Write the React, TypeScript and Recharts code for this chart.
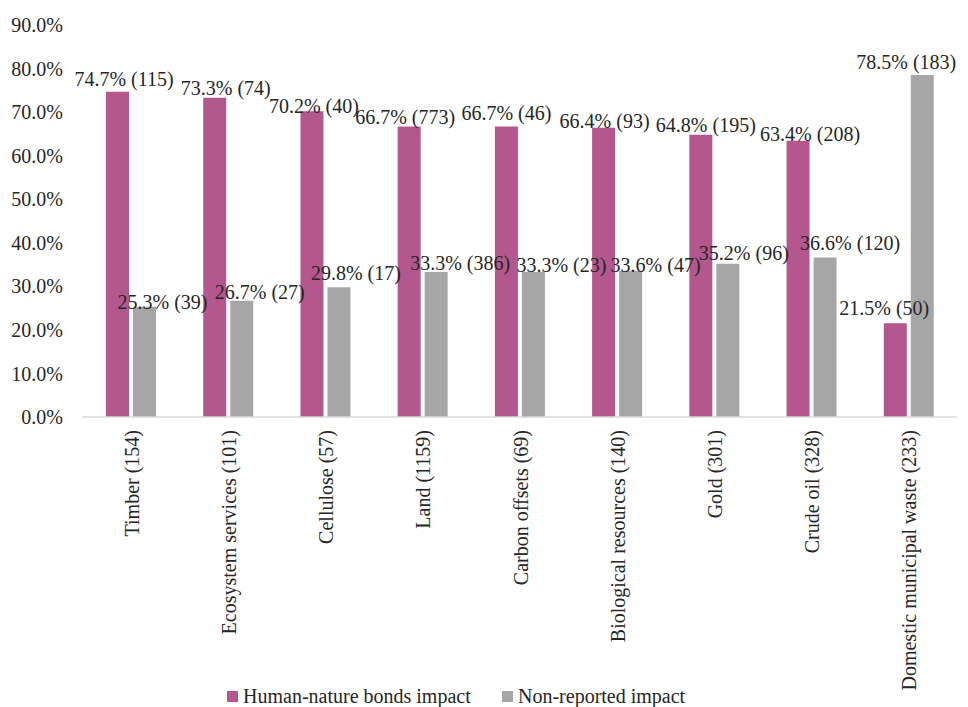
import React from "react";
import { BarChart, Bar, XAxis, YAxis, LabelList, Legend } from "recharts";

// Resource categories and the number of cases reported for each
const categories = [
  "Timber",
  "Ecosystem services",
  "Cellulose",
  "Land",
  "Carbon offsets",
  "Biological resources",
  "Gold",
  "Crude oil",
  "Domestic municipal waste",
];
const totals = [154, 101, 57, 1159, 69, 140, 301, 328, 233];

// Share (%) and count of cases per impact type
const bondsShare = [74.7, 73.3, 70.2, 66.7, 66.7, 66.4, 64.8, 63.4, 21.5];
const bondsCount = [115, 74, 40, 773, 46, 93, 195, 208, 50];
const nonReportedShare = [25.3, 26.7, 29.8, 33.3, 33.3, 33.6, 35.2, 36.6, 78.5];
const nonReportedCount = [39, 27, 17, 386, 23, 47, 96, 120, 183];

const yTicks = [0, 10, 20, 30, 40, 50, 60, 70, 80, 90];

const PINK = "#B4578E";
const GRAY = "#A6A6A6";
const TEXT = "#262626";
const FONT = "'Liberation Serif', 'Times New Roman', serif";

// Label nudges (dx, lift above bar top) so neighbouring labels sit like the printed figure
const bondsNudge = {
  dx: [6.5, 11, 2, -4, 0, 1, 5, 12, -11],
  up: [13, 10, 5, 9, 13, 7, 10, 7, 15],
};
const nonReportedNudge = {
  dx: [18, 18, 17, 24, 28, 25, 16, 25, -16],
  up: [5, 9, 14, 9, 7, 6, 11, 15, 13],
};

const data = categories.map((name, i) => ({
  label: `${name} (${totals[i]})`,
  bonds: bondsShare[i],
  bondsN: bondsCount[i],
  nonReported: nonReportedShare[i],
  nonReportedN: nonReportedCount[i],
}));

const makeLabel =
  (counts: number[], nudge: { dx: number[]; up: number[] }) => (props: any) => {
    const { x, y, width, value, index } = props;
    const cx = Number(x) + Number(width) / 2 + nudge.dx[index];
    const cy = Number(y) - nudge.up[index];
    return (
      <text
        x={cx}
        y={cy}
        textAnchor="middle"
        dominantBaseline="central"
        fontFamily={FONT}
        fontSize={20}
        fill={TEXT}
      >
        {`${Number(value).toFixed(1)}% (${counts[index]})`}
      </text>
    );
  };

const CategoryTick = (props: any) => {
  const { x, y, payload } = props;
  return (
    <text
      x={x + 1}
      y={y}
      transform={`rotate(-90 ${x + 1} ${y})`}
      textAnchor="end"
      dominantBaseline="central"
      fontFamily={FONT}
      fontSize={20}
      fill={TEXT}
    >
      {payload.value}
    </text>
  );
};

const LegendContent = () => (
  <div
    style={{
      position: "relative",
      width: 968,
      height: 20,
      fontFamily: FONT,
      fontSize: 20,
      lineHeight: "20px",
      color: TEXT,
    }}
  >
    <span style={{ position: "absolute", left: 227, top: 5, width: 11, height: 11, background: PINK }} />
    <span style={{ position: "absolute", left: 243, top: 0, whiteSpace: "nowrap" }}>
      Human-nature bonds impact
    </span>
    <span style={{ position: "absolute", left: 502, top: 5, width: 11, height: 11, background: GRAY }} />
    <span style={{ position: "absolute", left: 518, top: 0, whiteSpace: "nowrap" }}>
      Non-reported impact
    </span>
  </div>
);

export default function App() {
  return (
    <div style={{ position: "absolute", left: 0, top: 0, width: 968, height: 707, background: "#fff", overflow: "hidden" }}>
      <BarChart
        width={968}
        height={707}
        data={data}
        margin={{ top: 25, right: 11, bottom: 0, left: 0 }}
        barSize={23}
        barGap={4}
      >
        <XAxis
          dataKey="label"
          interval={0}
          height={290}
          tickLine={false}
          tickSize={0}
          tickMargin={13}
          axisLine={{ stroke: "#D9D9D9", strokeWidth: 1.5 }}
          tick={<CategoryTick />}
        />
        <YAxis
          width={82}
          domain={[0, 90]}
          ticks={yTicks}
          interval={0}
          axisLine={false}
          tickLine={false}
          tickSize={0}
          tickMargin={19}
          tickFormatter={(v: number) => `${v.toFixed(1)}%`}
          tick={{ fontFamily: FONT, fontSize: 20, fill: TEXT }}
        />
        <Legend
          layout="horizontal"
          verticalAlign="middle"
          align="center"
          wrapperStyle={{ position: "absolute", top: 686, left: 0, width: 968 }}
          content={<LegendContent />}
        />
        <Bar dataKey="bonds" name="Human-nature bonds impact" fill={PINK} isAnimationActive={false}>
          <LabelList dataKey="bonds" content={makeLabel(bondsCount, bondsNudge)} />
        </Bar>
        <Bar dataKey="nonReported" name="Non-reported impact" fill={GRAY} isAnimationActive={false}>
          <LabelList dataKey="nonReported" content={makeLabel(nonReportedCount, nonReportedNudge)} />
        </Bar>
      </BarChart>
    </div>
  );
}
